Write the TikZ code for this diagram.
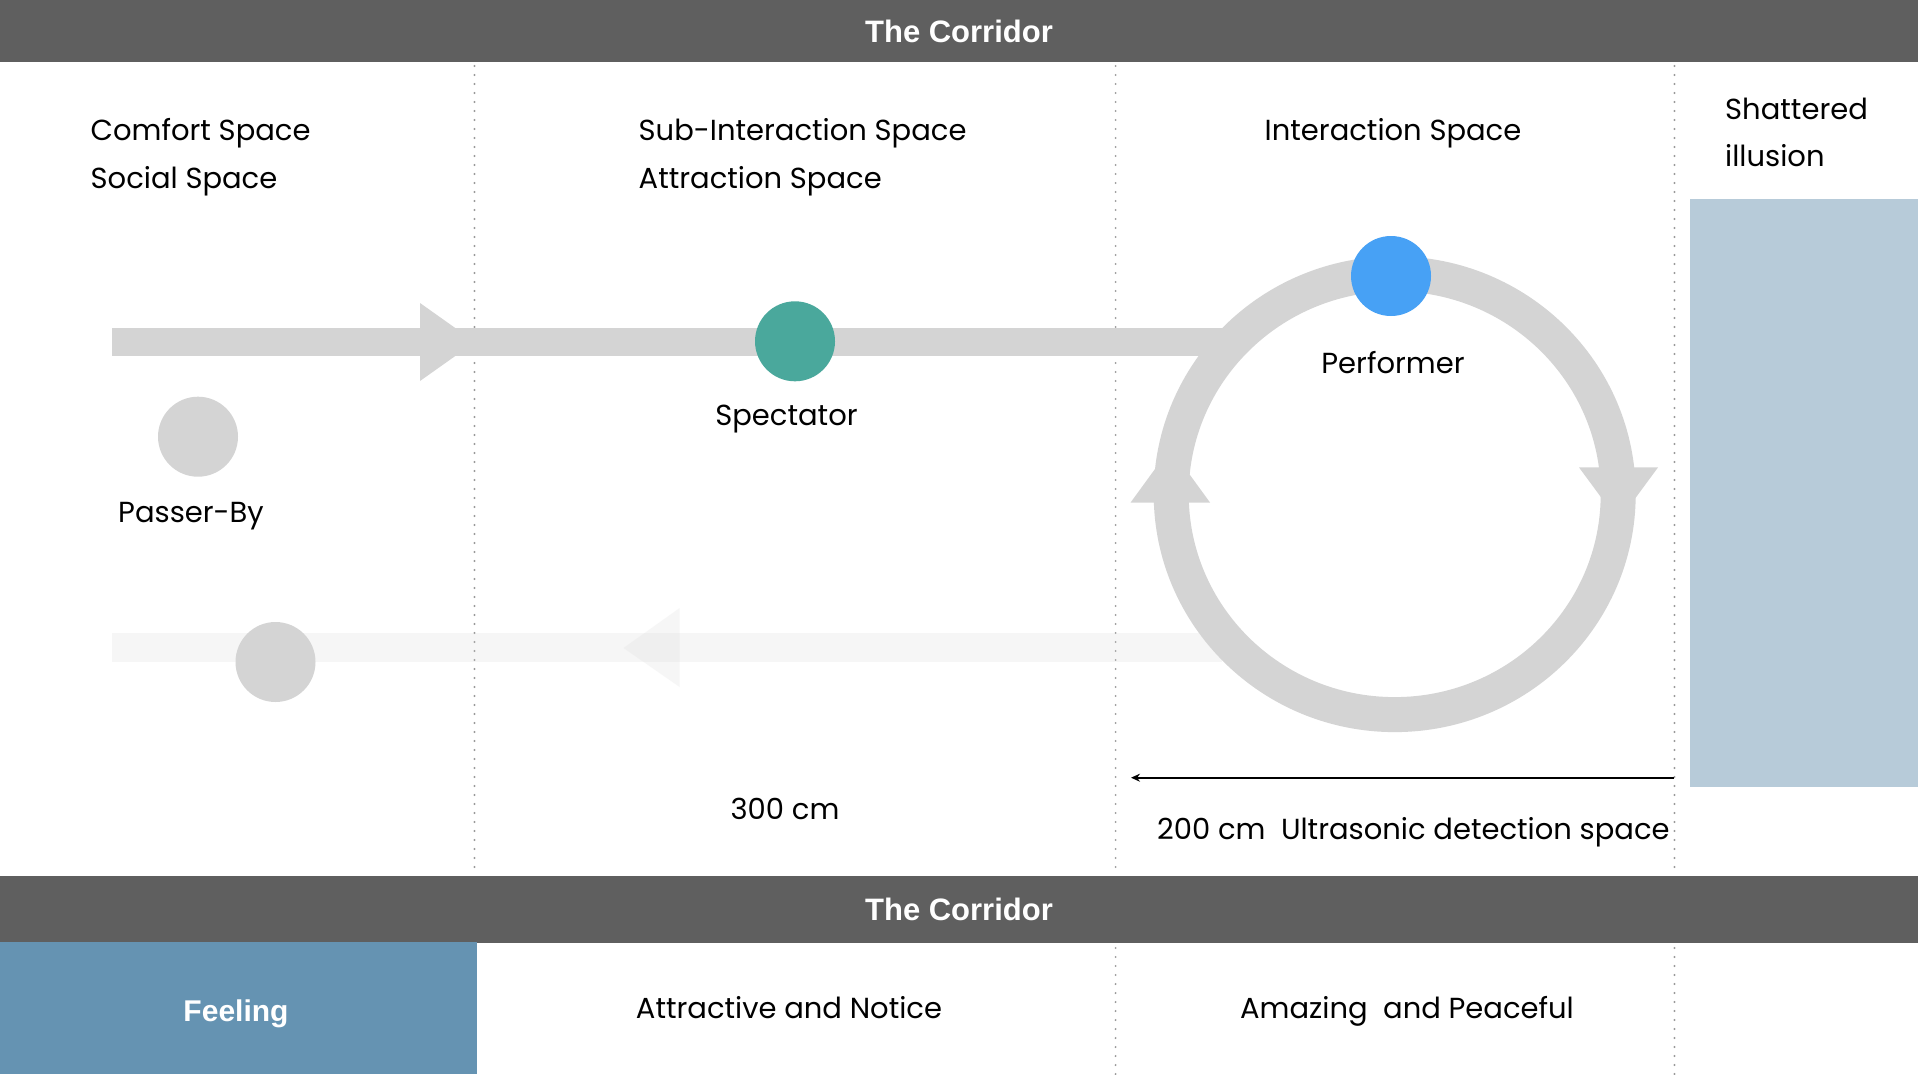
\documentclass[tikz,border=0pt]{standalone}
\usepackage{fontspec}
\setmainfont{Poppins}
\newfontfamily\titlefont{Liberation Sans}
\usetikzlibrary{arrows.meta}
\definecolor{barCol}{HTML}{5F5F5F}
\definecolor{flowCol}{HTML}{D4D4D4}
\definecolor{specCol}{HTML}{4AA89C}
\definecolor{perfCol}{HTML}{47A1F5}
\definecolor{glassCol}{HTML}{B7CBD9}
\definecolor{feelCol}{HTML}{6593B2}
\definecolor{dotCol}{HTML}{999999}
\tikzset{
  lbl/.style={font=\fontsize{29}{33}\selectfont, text=black, text height=23pt, text depth=5pt, yshift=-2pt},
  ttl/.style={font=\titlefont\bfseries\fontsize{31}{35}\selectfont, text=white},
  dotline/.style={dotCol, line width=2.2pt, line cap=round, dash pattern=on 0pt off 9pt},
  dot/.style={circle, minimum size=80pt, inner sep=0pt},
}
\begin{document}
\begin{tikzpicture}[x=1pt,y=-1pt, every node/.style={inner sep=0pt}]
\useasboundingbox (0,0) rectangle (1918,1074);
\fill[white] (0,0) rectangle (1918,1074);

% bars
\node[fill=barCol, minimum width=1918pt, minimum height=62pt, ttl] (topbar) at (959,31) {The Corridor};
\node[fill=barCol, minimum width=1918pt, minimum height=67pt, ttl] (botbar) at (959,909.5) {The Corridor};

% glass / feeling boxes
\fill[glassCol] (1690,199) rectangle (1918,787);
\node[fill=feelCol, minimum width=477pt, minimum height=132pt, anchor=north west] (feel) at (0,942) {};
\node[ttl, font=\titlefont\bfseries\fontsize{30}{34}\selectfont] (feeltxt) at (236,1013.5) {Feeling};

% dotted dividers
\draw[dotline] (474.5,66) -- (474.5,872);
\draw[dotline] (1115.6,66) -- (1115.6,872);
\draw[dotline] (1674.5,66) -- (1674.5,872);
\draw[dotline] (1115.6,948) -- (1115.6,1074);
\draw[dotline] (1674.5,948) -- (1674.5,1074);

% top flow
\fill[flowCol] (112,328) rectangle (1222,356);
\fill[flowCol] (420,303) -- (475,342) -- (420,381) -- cycle;

% bottom (faded) flow
\fill[flowCol, fill opacity=0.19] (112,633) rectangle (1222,662);
\fill[flowCol, fill opacity=0.19] (679.6,608) -- (623.5,648) -- (679.6,687) -- cycle;

% ring
\coordinate (ringc) at (1394.7,494.2);
\draw[flowCol, line width=35pt] (ringc) ellipse [x radius=223.5, y radius=220.4];
\fill[flowCol] (1130.6,502.5) -- (1170.3,448) -- (1210,502.5) -- cycle;
\fill[flowCol] (1579,467.4) -- (1618.5,521) -- (1658,467.4) -- cycle;

% people
\node[dot, fill=specCol] (spec) at (795,341.3) {};
\node[dot, fill=flowCol] (passer) at (198,436.7) {};
\node[dot, fill=flowCol] (leaver) at (275.5,662) {};
\node[dot, fill=perfCol] (perf) at (1391,276) {};

% labels
\node[lbl, anchor=west] (comfort) at (90.5,129.7) {Comfort Space};
\node[lbl, anchor=west] (social) at (90.5,177.4) {Social Space};
\node[lbl, anchor=west] (subint) at (638.5,129.7) {Sub-Interaction Space};
\node[lbl, anchor=west] (attrsp) at (638.5,177.4) {Attraction Space};
\node[lbl] (intsp) at (1393,129.7) {Interaction Space};
\node[lbl, anchor=west] (shat) at (1725,108.9) {Shattered};
\node[lbl, anchor=west] (illu) at (1725,155.3) {illusion};
\node[lbl] (spectxt) at (786.5,414.7) {Spectator};
\node[lbl] (perftxt) at (1393,362) {Performer};
\node[lbl] (passtxt) at (191,511.3) {Passer-By};
\node[lbl] (d300) at (785,808.5) {300 cm};
\node[lbl, anchor=west] (d200) at (1157,828) {200 cm\ \ Ultrasonic detection space};
\node[lbl] (attract) at (789,1007) {Attractive and Notice};
\node[lbl] (amaze) at (1407,1007) {Amazing\ \ and Peaceful};

% detection arrow
\coordinate (detR) at (1674,777.7);
\coordinate (detL) at (1131,777.7);
\draw[line width=1.8pt, -{Stealth[length=9pt,width=8pt]}] (detR) -- (detL);
\end{tikzpicture}
\end{document}
